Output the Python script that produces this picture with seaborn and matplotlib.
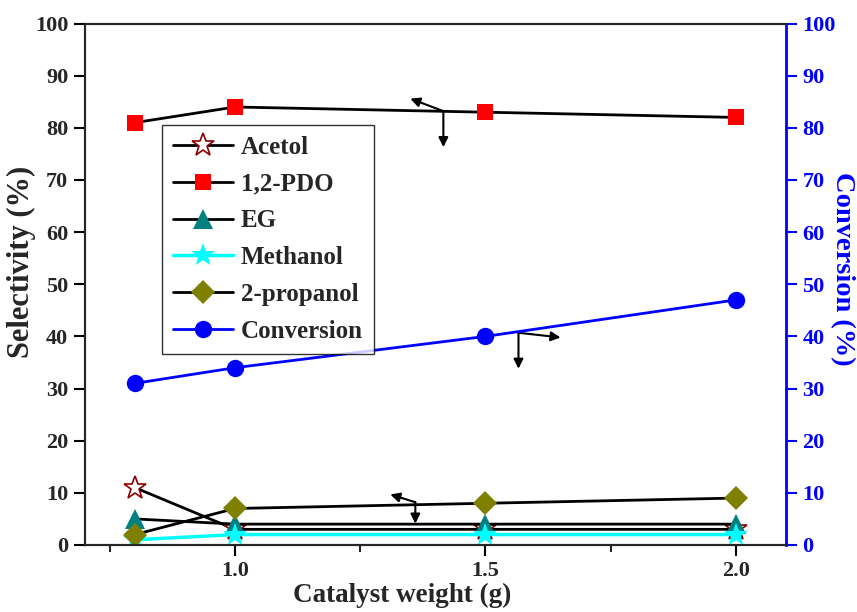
import matplotlib
matplotlib.use("Agg")
import matplotlib.pyplot as plt
import seaborn as sns
import numpy as np

# 数据
weight = [0.8, 1.0, 1.5, 2.0]
acetol = [11, 3, 3, 3]
pdo = [81, 84, 83, 82]
eg = [5, 4, 4, 4]
methanol = [1, 2, 2, 2]
propanol = [2, 7, 8, 9]
conversion = [31, 34, 40, 47]

# 指示坐标轴的箭头: (起点, 终点)
arrows = [
    ((1.416, 83.2), (1.350, 85.6)),
    ((1.416, 83.2), (1.416, 76.3)),
    ((1.566, 40.7), (1.650, 39.8)),
    ((1.566, 40.7), (1.566, 33.8)),
    ((1.360, 8.2), (1.310, 9.7)),
    ((1.360, 8.2), (1.360, 4.1)),
]

sns.set_theme(style="ticks")
plt.rcParams['font.family'] = ['Liberation Serif', 'DejaVu Serif']
plt.rcParams['font.weight'] = 'bold'
plt.rcParams['axes.labelweight'] = 'bold'

fig = plt.figure(figsize=(8.57, 6.12), dpi=100)
ax = fig.add_axes([0.099, 0.1095, 0.818, 0.852])
ax2 = ax.twinx()

lw = 2
sns.lineplot(x=weight, y=acetol, ax=ax, color='black', lw=lw, marker='*', ms=17,
             markerfacecolor='white', markeredgecolor='#8B0000', mew=1.2,
             label='Acetol', legend=False)
sns.lineplot(x=weight, y=pdo, ax=ax, color='black', lw=lw, marker='s', ms=11.5,
             markerfacecolor='red', markeredgecolor='red', mew=0,
             label='1,2-PDO', legend=False)
sns.lineplot(x=weight, y=eg, ax=ax, color='black', lw=lw, marker='^', ms=15,
             markerfacecolor='#008080', markeredgecolor='#008080', mew=0,
             label='EG', legend=False)
sns.lineplot(x=weight, y=methanol, ax=ax, color='cyan', lw=lw + 0.5, marker='*', ms=18,
             markerfacecolor='cyan', markeredgecolor='cyan', mew=0,
             label='Methanol', legend=False)
sns.lineplot(x=weight, y=propanol, ax=ax, color='black', lw=lw, marker='D', ms=12,
             markerfacecolor='#808000', markeredgecolor='#808000', mew=0,
             label='2-propanol', legend=False)
sns.lineplot(x=weight, y=conversion, ax=ax2, color='blue', lw=lw, marker='o', ms=12.5,
             markerfacecolor='blue', markeredgecolor='blue', mew=0,
             label='Conversion', legend=False)

for start, end in arrows:
    ax.annotate('', xy=end, xytext=start,
                arrowprops=dict(arrowstyle='-|>', color='black', lw=1.5,
                                mutation_scale=14, shrinkA=0, shrinkB=0))

ax.set_xlim(0.7, 2.1)
ax.set_ylim(0, 100)
ax2.set_ylim(0, 100)
ax.set_xticks([1.0, 1.5, 2.0])
ax.set_xticks([0.75, 1.25, 1.75], minor=True)
ax.set_yticks(np.arange(0, 101, 10))
ax2.set_yticks(np.arange(0, 101, 10))

ax.set_xlabel('Catalyst weight (g)', fontsize=19.5)
ax.set_ylabel('Selectivity (%)', fontsize=22)
ax2.set_ylabel('Conversion (%)', fontsize=20.5, color='blue', rotation=270, va='center')
ax.xaxis.set_label_coords(0.453, -0.073)
ax.yaxis.set_label_coords(-0.069, 0.543)
ax2.yaxis.set_label_coords(1.08, 0.53)

ax.tick_params(axis='both', which='major', direction='out', length=8, width=1.5,
               labelsize=16, color='black', pad=4)
ax.tick_params(axis='x', which='major', pad=3.5)
ax.tick_params(axis='x', which='minor', direction='out', length=5, width=1.5)
ax2.tick_params(axis='y', direction='out', length=8, width=1.5, labelsize=16,
                colors='blue', pad=4)
for lab in ax.get_xticklabels() + ax.get_yticklabels() + ax2.get_yticklabels():
    lab.set_fontweight('bold')

for s in ax.spines.values():
    s.set_linewidth(1.5)
    s.set_color('black')
for s in ax2.spines.values():
    s.set_linewidth(1.5)
ax2.spines['right'].set_color('blue')
ax2.spines['right'].set_linewidth(2)
ax.spines['right'].set_visible(False)

h1, l1 = ax.get_legend_handles_labels()
h2, l2 = ax2.get_legend_handles_labels()
leg = ax2.legend(h1 + h2, l1 + l2, loc='upper left', bbox_to_anchor=(0.11, 0.806),
                 borderaxespad=0, fontsize=18, frameon=True, fancybox=False,
                 edgecolor='black', handlelength=2.4, borderpad=0.45,
                 labelspacing=0.55, handletextpad=0.3)
leg.get_frame().set_linewidth(1.0)
for t in leg.get_texts():
    t.set_fontweight('bold')

fig.savefig('out.png', dpi=100)
